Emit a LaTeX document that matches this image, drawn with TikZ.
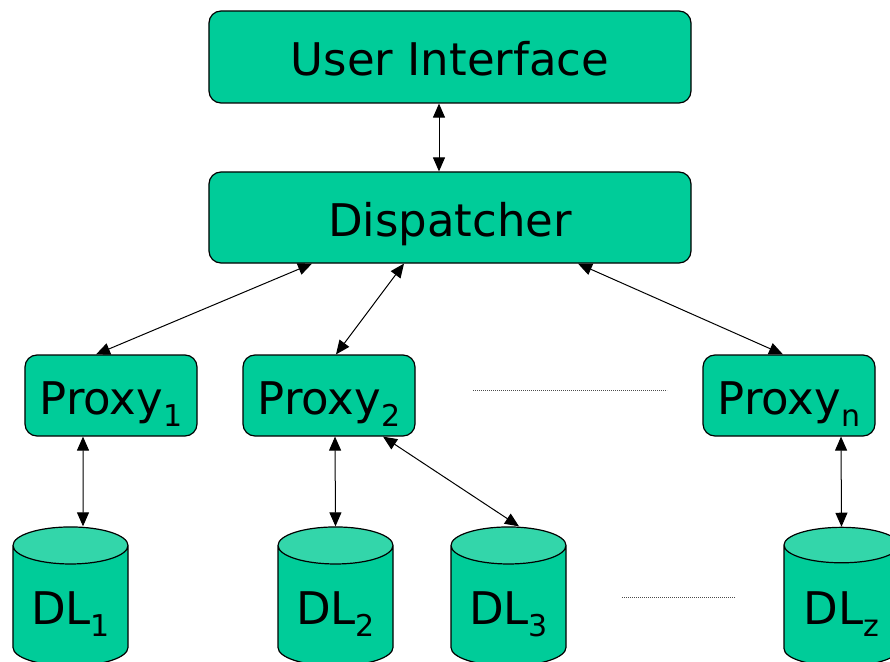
\documentclass[tikz,border=0pt]{standalone}
\usepackage{fontspec}
\setmainfont{DejaVu Sans}
\usetikzlibrary{arrows.meta,shapes.geometric}

\definecolor{boxgreen}{HTML}{00CC99}
\definecolor{topgreen}{HTML}{33D6AA}
\newcommand{\idx}[1]{\raisebox{-12bp}{\fontsize{30bp}{30bp}\selectfont #1}}

\tikzset{
  label font/.style={font=\fontsize{45bp}{50bp}\selectfont, text height=37bp, text depth=0bp, inner sep=0pt},
  block/.style={draw, line width=1.2bp, fill=boxgreen, rounded corners=12bp, label font},
  store/.style={cylinder, shape border rotate=90, aspect=0.47, draw, line width=1.2bp,
    cylinder uses custom fill, cylinder body fill=boxgreen, cylinder end fill=topgreen,
    minimum width=115bp, minimum height=139bp, label font},
  link/.style={<->, >={Triangle[length=14bp,width=12bp]}, line width=1bp},
  gap/.style={dash pattern=on 1bp off 1bp, line width=0.8bp, black!70},
}

\begin{document}
\begin{tikzpicture}[x=1bp, y=-1bp]
  \useasboundingbox (0,0) rectangle (890,662);
  \clip (0,0) rectangle (890,662);
  % Upper layers
  \node[block, minimum width=482bp, minimum height=92bp] (ui) at (450,57) {User Interface};
  \node[block, minimum width=482bp, minimum height=91bp] (disp) at (450,217.5) {Dispatcher};
  % Proxies
  \node[block, minimum width=172bp, minimum height=81bp] (p1) at (111,395.5) {Proxy\idx{1}};
  \node[block, minimum width=172bp, minimum height=81bp] (p2) at (329,395.5) {Proxy\idx{2}};
  \node[block, minimum width=172bp, minimum height=81bp] (pn) at (789,395.5) {Proxy\idx{n}};
  % Data stores
  \node[store] (dl1) at (70.5,606) {DL\idx{1}};
  \node[store] (dl2) at (335.5,606) {DL\idx{2}};
  \node[store] (dl3) at (508.5,606) {DL\idx{3}};
  \node[store] (dlz) at (841.5,606) {DL\idx{z}};
  % Links
  \draw[link] ([xshift=-11bp]ui.south) -- ([xshift=-11bp]disp.north);
  \draw[link] ([xshift=-138bp]disp.south) -- ([xshift=-15bp]p1.north);
  \draw[link] ([xshift=-46bp]disp.south) -- ([xshift=7bp]p2.north);
  \draw[link] ([xshift=128bp]disp.south) -- ([xshift=-6bp]pn.north);
  \draw[link] ([xshift=-28bp]p1.south) -- ([xshift=12.5bp]dl1.north);
  \draw[link] ([xshift=6bp]p2.south) -- (dl2.north);
  \draw[link] ([xshift=54bp]p2.south) -- ([xshift=10.5bp]dl3.north);
  \draw[link] ([xshift=52bp]pn.south) -- (dlz.north);
  % Omitted entries
  \draw[gap] (473,390) -- (667,390);
  \draw[gap] (622,597) -- (735,597);
\end{tikzpicture}
\end{document}
